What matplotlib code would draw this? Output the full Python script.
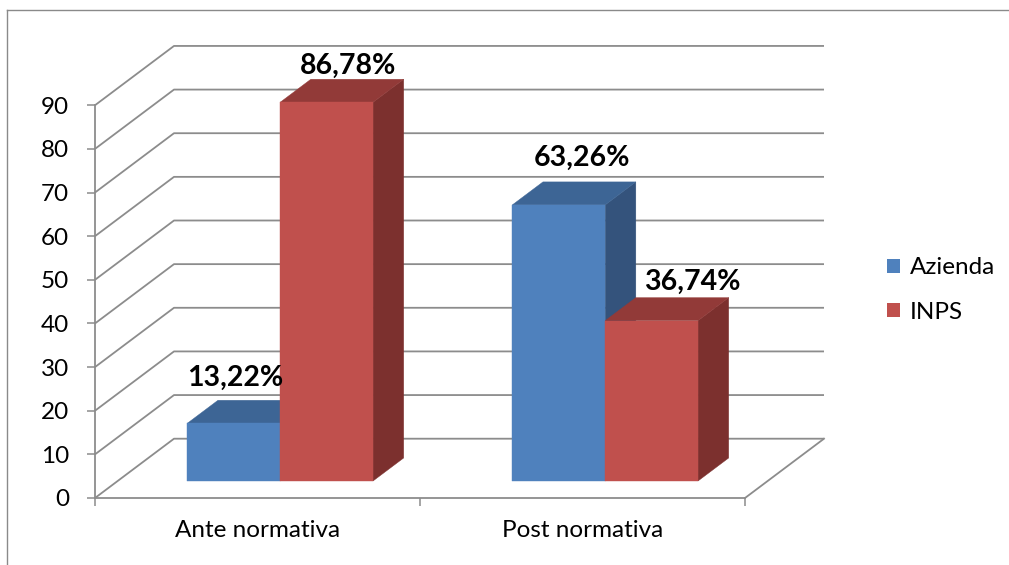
import matplotlib
matplotlib.use("Agg")
import matplotlib.pyplot as plt
from matplotlib.patches import Polygon, Patch
from matplotlib.lines import Line2D

# ---------------- data ----------------
categories = ["Ante normativa", "Post normativa"]
series_names = ["Azienda", "INPS"]
azienda = [13.22, 63.26]
inps = [86.78, 36.74]
label_texts = [["13,22%", "63,26%"], ["86,78%", "36,74%"]]
yticks = [0, 10, 20, 30, 40, 50, 60, 70, 80, 90]

# ---------------- style ----------------
plt.rcParams['font.family'] = ['Lato', 'DejaVu Sans']
front_cols = ['#4F81BD', '#C0504D']
top_cols = ['#3D6595', '#923A38']
side_cols = ['#34537C', '#7C302E']
grid_col = '#8C8C8C'
FS = 17.5

W, H, DPI = 1009, 565, 100
fig = plt.figure(figsize=(W / DPI, H / DPI), dpi=DPI)

# plot-area geometry in pixels (front wall)
x_left_px, x_right_px = 95, 745
y_zero_px = 498            # from top
px_per_unit = 4.364
ymax = yticks[-1]
ax = fig.add_axes([x_left_px / W, (H - y_zero_px) / H,
                   (x_right_px - x_left_px) / W, ymax * px_per_unit / H])
ncat = len(categories)
ax.set_xlim(0, ncat)
ax.set_ylim(0, ymax)
ax.patch.set_visible(False)

# oblique depth offset (in data units)
DX = 79 / ((x_right_px - x_left_px) / ncat)
DV = 59.3 / px_per_unit

for s in ['top', 'right']:
    ax.spines[s].set_visible(False)
for s in ['left', 'bottom']:
    ax.spines[s].set_color(grid_col)
    ax.spines[s].set_linewidth(1.3)

ax.set_yticks(yticks)
ax.set_yticklabels([str(t) for t in yticks], fontsize=FS)
ax.tick_params(axis='y', direction='out', length=5.8, width=1.1, color=grid_col, pad=13)
ax.set_xticks(range(ncat + 1))
ax.set_xticklabels([])
ax.tick_params(axis='x', which='major', direction='out', length=5.8, width=1.1, color=grid_col)
ax.set_xticks([i + 0.5 for i in range(ncat)], minor=True)
ax.set_xticklabels(categories, minor=True, fontsize=FS)
ax.tick_params(axis='x', which='minor', length=0, pad=16)

# walls: gridlines (left wall diagonal + back wall horizontal)
for v in yticks:
    ax.plot([0, DX, ncat + DX], [v, v + DV, v + DV], color=grid_col, lw=1.3,
            clip_on=False, zorder=1, solid_capstyle='butt')
# floor right edge
ax.plot([ncat, ncat + DX], [0, DV], color=grid_col, lw=1.3, clip_on=False, zorder=1)

# bars
gapwidth = 1.5
nser = 2
bw = 1.0 / (nser + gapwidth)
d0, d1 = 0.287, 0.675
values = [azienda, inps]
bars = []
for si in range(nser):
    for ci in range(ncat):
        x0 = ci + gapwidth / 2 * bw + si * bw
        bars.append((x0, si, ci, values[si][ci]))
bars.sort(key=lambda b: b[0])   # left to right: right bars hide left bars' sides
z = 2
for x0, si, ci, v in bars:
    x1 = x0 + bw
    a0x, a0y = d0 * DX, d0 * DV
    a1x, a1y = d1 * DX, d1 * DV
    side = [(x1 + a0x, a0y), (x1 + a1x, a1y), (x1 + a1x, v + a1y), (x1 + a0x, v + a0y)]
    top = [(x0 + a0x, v + a0y), (x1 + a0x, v + a0y), (x1 + a1x, v + a1y), (x0 + a1x, v + a1y)]
    front = [(x0 + a0x, a0y), (x1 + a0x, a0y), (x1 + a0x, v + a0y), (x0 + a0x, v + a0y)]
    for poly, col in [(side, side_cols[si]), (top, top_cols[si]), (front, front_cols[si])]:
        ax.add_patch(Polygon(poly, closed=True, facecolor=col, edgecolor=col, lw=0.3,
                             clip_on=False, zorder=z))
    z += 1

# data labels (offsets in pixels from the front-top centre of each bar)
label_offsets = [[(1, 45), (23, 47)], [(21, 36), (41, 39)]]
for si in range(nser):
    for ci in range(ncat):
        x0 = ci + gapwidth / 2 * bw + si * bw
        v = values[si][ci]
        ax.annotate(label_texts[si][ci], (x0 + bw / 2 + d0 * DX, v + d0 * DV),
                    xytext=label_offsets[si][ci], textcoords='offset pixels',
                    ha='center', va='center', fontsize=20.5, fontweight='bold',
                    annotation_clip=False, zorder=50)

# legend
handles = [Patch(facecolor=front_cols[i], edgecolor='none') for i in range(nser)]
fig.legend(handles, series_names, loc='center left', bbox_to_anchor=(887 / W, (H - 290) / H),
           frameon=False, fontsize=FS, borderpad=0, borderaxespad=0,
           handlelength=0.55, handleheight=0.55, handletextpad=0.4, labelspacing=0.95)

# chart border (left and top visible)
fig.add_artist(Line2D([7 / W, 7 / W], [0, (H - 10) / H], transform=fig.transFigure,
                      color='#8A8A8A', lw=1.0))
fig.add_artist(Line2D([7 / W, 1], [(H - 10) / H, (H - 10) / H], transform=fig.transFigure,
                      color='#8A8A8A', lw=1.0))

fig.savefig("out.png", dpi=DPI)
